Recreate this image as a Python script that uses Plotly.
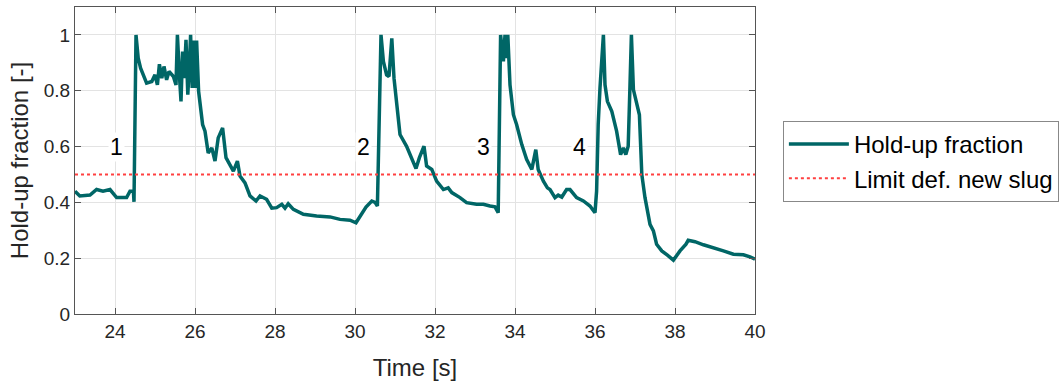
import plotly.graph_objects as go

time_s = [23.0, 23.12, 23.375, 23.54, 23.7, 23.875, 24.04, 24.29, 24.375, 24.46, 24.475,
          24.525, 24.58, 24.64, 24.79, 24.92, 25.0, 25.06, 25.11, 25.17, 25.225, 25.29,
          25.35, 25.46, 25.525, 25.56, 25.61, 25.65, 25.69, 25.73, 25.775, 25.82, 25.86,
          25.89, 25.93, 25.975, 26.0, 26.04, 26.09, 26.19, 26.25, 26.33, 26.42, 26.5,
          26.58, 26.69, 26.775, 26.86, 26.96, 27.06, 27.125, 27.25, 27.375, 27.525,
          27.625, 27.79, 27.92, 28.04, 28.17, 28.25, 28.33, 28.46, 28.71, 29.04, 29.375,
          29.625, 29.875, 30.025, 30.17, 30.275, 30.42, 30.5, 30.56, 30.65, 30.71, 30.79,
          30.85, 30.92, 30.975, 31.125, 31.29, 31.42, 31.525, 31.61, 31.725, 31.79, 31.92,
          32.04, 32.21, 32.33, 32.42, 32.625, 32.79, 33.04, 33.21, 33.375, 33.5, 33.58,
          33.64, 33.71, 33.75, 33.79, 33.82, 33.875, 33.96, 34.04, 34.17, 34.29, 34.42,
          34.52, 34.58, 34.71, 34.81, 34.875, 35.0, 35.08, 35.17, 35.29, 35.375, 35.54,
          35.71, 35.875, 36.0, 36.04, 36.08, 36.125, 36.21, 36.25, 36.31, 36.42, 36.54,
          36.64, 36.71, 36.77, 36.83, 36.875, 36.91, 36.96, 37.025, 37.11, 37.17, 37.25,
          37.375, 37.46, 37.54, 37.67, 37.81, 37.96, 38.125, 38.275, 38.33, 38.5, 38.71,
          38.96, 39.21, 39.46, 39.71, 39.875, 40.0]
holdup = [0.44, 0.423, 0.426, 0.446, 0.44, 0.446, 0.417, 0.417, 0.44, 0.44, 0.402,
          1.0, 0.917, 0.881, 0.827, 0.833, 0.857, 0.821, 0.895, 0.845, 0.887, 0.839,
          0.869, 0.851, 0.821, 1.0, 0.857, 0.762, 0.94, 0.845, 0.982, 0.786, 0.893,
          1.0, 0.81, 0.98, 0.81, 0.98, 0.798, 0.679, 0.655, 0.577, 0.595, 0.548,
          0.631, 0.667, 0.56, 0.536, 0.512, 0.548, 0.494, 0.47, 0.423, 0.405,
          0.423, 0.411, 0.379, 0.381, 0.393, 0.379, 0.395, 0.375, 0.357, 0.351, 0.348,
          0.339, 0.336, 0.327, 0.357, 0.383, 0.405, 0.4, 0.387, 1.0, 0.905, 0.857,
          0.851, 0.988, 0.845, 0.643, 0.601, 0.56, 0.521, 0.56, 0.601, 0.53, 0.518,
          0.476, 0.446, 0.452, 0.435, 0.417, 0.399, 0.393, 0.393, 0.387, 0.384, 0.363,
          1.0, 0.905, 1.0, 0.917, 1.0, 0.821, 0.714, 0.679, 0.607, 0.554, 0.518,
          0.589, 0.518, 0.476, 0.452, 0.446, 0.417, 0.426, 0.419, 0.446, 0.446, 0.417,
          0.405, 0.387, 0.363, 0.44, 0.679, 0.81, 1.0, 0.821, 0.762, 0.726, 0.655,
          0.571, 0.595, 0.571, 0.601, 0.821, 1.0, 0.804, 0.762, 0.714, 0.5, 0.417,
          0.321, 0.298, 0.25, 0.226, 0.211, 0.193, 0.226, 0.25, 0.264, 0.259, 0.248,
          0.238, 0.226, 0.214, 0.212, 0.205, 0.196]

limit_x = [23, 40]
limit_y = [0.5, 0.5]

slug_labels = ["1", "2", "3", "4"]
slug_label_x = [24.04, 30.2, 33.2, 35.62]
slug_label_y = [0.6, 0.6, 0.6, 0.6]

x_ticks = [24, 26, 28, 30, 32, 34, 36, 38, 40]
y_ticks = [0, 0.2, 0.4, 0.6, 0.8, 1]
y_ticklabels = ["0", "0.2", "0.4", "0.6", "0.8", "1"]

FONT = "Liberation Sans, Arial, sans-serif"
TXT = "#262626"

fig = go.Figure()
fig.add_trace(go.Scatter(x=time_s, y=holdup, mode="lines", name="Hold-up fraction",
                         line=dict(color="#006666", width=3.5)))
fig.add_trace(go.Scatter(x=limit_x, y=limit_y, mode="lines", name="Limit def. new slug",
                         line=dict(color="#ff4040", width=2, dash="dot")))

for lab, lx, ly in zip(slug_labels, slug_label_x, slug_label_y):
    fig.add_annotation(x=lx, y=ly, text=lab, showarrow=False, bgcolor="white",
                       font=dict(family=FONT, size=23, color="black"),
                       xanchor="center", yanchor="middle", borderpad=1)

axis_common = dict(showline=True, linecolor="#555555", linewidth=1, mirror="ticks",
                   ticks="inside", ticklen=6, tickcolor="#555555",
                   showgrid=True, gridcolor="#e3e3e3", gridwidth=1, zeroline=False,
                   tickfont=dict(family=FONT, size=19, color=TXT))

fig.update_xaxes(range=[23, 40], tickvals=x_ticks,
                 title=dict(text="Time [s]", font=dict(family=FONT, size=24, color=TXT), standoff=18),
                 **axis_common)
fig.update_yaxes(range=[0, 1.1], tickvals=y_ticks, ticktext=y_ticklabels,
                 title=dict(text="Hold-up fraction [-]", font=dict(family=FONT, size=24, color=TXT), standoff=8),
                 **axis_common)

fig.update_layout(
    width=1063, height=383,
    margin=dict(l=75, r=308, t=7, b=69, autoexpand=False),
    plot_bgcolor="white", paper_bgcolor="white",
    font=dict(family=FONT, color=TXT),
    legend=dict(x=1.041, y=0.629, xanchor="left", yanchor="top",
                bordercolor="#888888", borderwidth=1, bgcolor="white",
                font=dict(family=FONT, size=24, color="black"),
                itemwidth=60, tracegroupgap=0),
    showlegend=True,
)

fig.write_html("out.html")
